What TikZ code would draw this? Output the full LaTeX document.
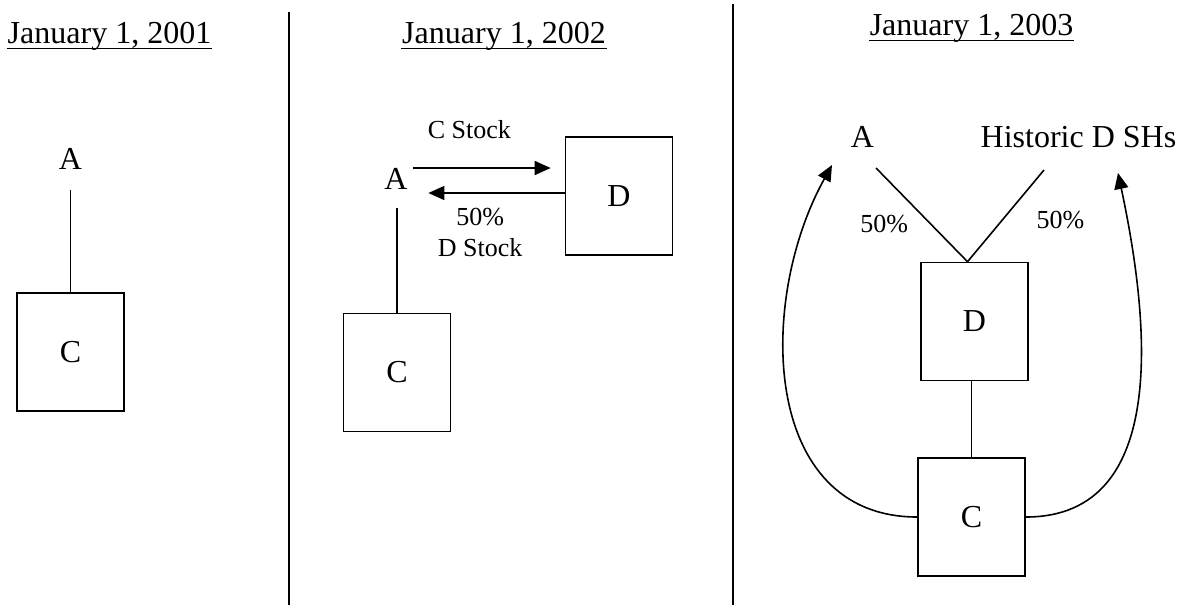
\documentclass[tikz,border=0pt]{standalone}
\usepackage{fontspec}
\setmainfont{Liberation Serif}
\usepackage{tikz}
\usetikzlibrary{arrows.meta,positioning,calc}

\begin{document}
\begin{tikzpicture}[
    x=0.5pt,y=-0.5pt,
    line width=0.8pt,
    %styles
    big text/.style={inner sep=0pt,font=\fontsize{16}{19}\selectfont},
    small text/.style={inner sep=0pt,font=\fontsize{13}{15.5}\selectfont},
    title/.style={big text,anchor=base},
    entity/.style={draw,big text,minimum width=53.5pt,minimum height=59pt},
    stock arrow/.style={-{Triangle[length=8pt,width=7pt]}},
  ]
  \useasboundingbox (0,0) rectangle (1187,607);

  %dividers
  \draw (289,12) -- (289,605);
  \draw (733,4) -- (733,605);

  %titles
  \node[title] (T1) at (109.5,43) {January 1, 2001};
  \node[title] (T2) at (504,43) {January 1, 2002};
  \node[title] (T3) at (971.5,35) {January 1, 2003};
  \foreach \t in {T1,T2,T3}
  \draw[line width=0.55pt] ([yshift=-2.6pt]\t.base west) -- ([yshift=-2.6pt]\t.base east);

  %2001
  \node[big text] (A1) at (70.5,159) {A};
  \node[entity] (C1) at (70.5,352) {C};
  \draw[shorten <=10pt] (C1.north |- A1.south) -- (C1.north);

  %2002
  \node[big text] (A2) at (396,179) {A};
  \node[entity] (D2) at (619,196) {D};
  \node[entity] (C2) at (397,372.5) {C};
  \draw[shorten <=9pt] (C2.north |- A2.south) -- (C2.north);
  \coordinate (cstart) at ([shift={(4.5,-11)}]A2.east);
  \draw[stock arrow] (cstart) -- node[small text,pos=0.41,above=14pt] (cstock) {C Stock}
  ([xshift=-7pt]D2.west |- cstart);
  \coordinate (dstart) at ([yshift=1.5pt]D2.west);
  \draw[stock arrow] (dstart) -- node[small text,align=center,pos=0.62,below=7pt] (dstock) {50\%\\D Stock}
  ([xshift=10pt]A2.east |- dstart);

  %2003
  \node[big text] (A3) at (862.5,137) {A};
  \node[big text] (H3) at (1078.5,137) {Historic D SHs};
  \node[entity] (D3) at (974.5,321.5) {D};
  \node[entity] (C3) at (971.5,517) {C};
  \coordinate (apex) at ([xshift=-3.5pt]D3.north);
  \coordinate (afoot) at ([shift={(13.5,31)}]A3.center);
  \coordinate (hfoot) at ([shift={(-34.5,33)}]H3.center);
  \draw (afoot) -- node[small text,pos=0.6,left=11pt] (pctA) {50\%} (apex);
  \draw (hfoot) -- node[small text,pos=0.54,right=16.5pt] (pctH) {50\%} (apex);
  \draw (C3.north) -- (C3.north |- D3.south);
  \coordinate (ltip) at ([shift={(-30.5,28)}]A3.center);
  \coordinate (rtip) at ([shift={(39.5,36)}]H3.center);
  \draw[stock arrow] (C3.west) to[out=180,in=241,looseness=1.1] (ltip);
  \draw[stock arrow] (C3.east) to[out=0,in=-78,looseness=1.05] (rtip);
\end{tikzpicture}
\end{document}
